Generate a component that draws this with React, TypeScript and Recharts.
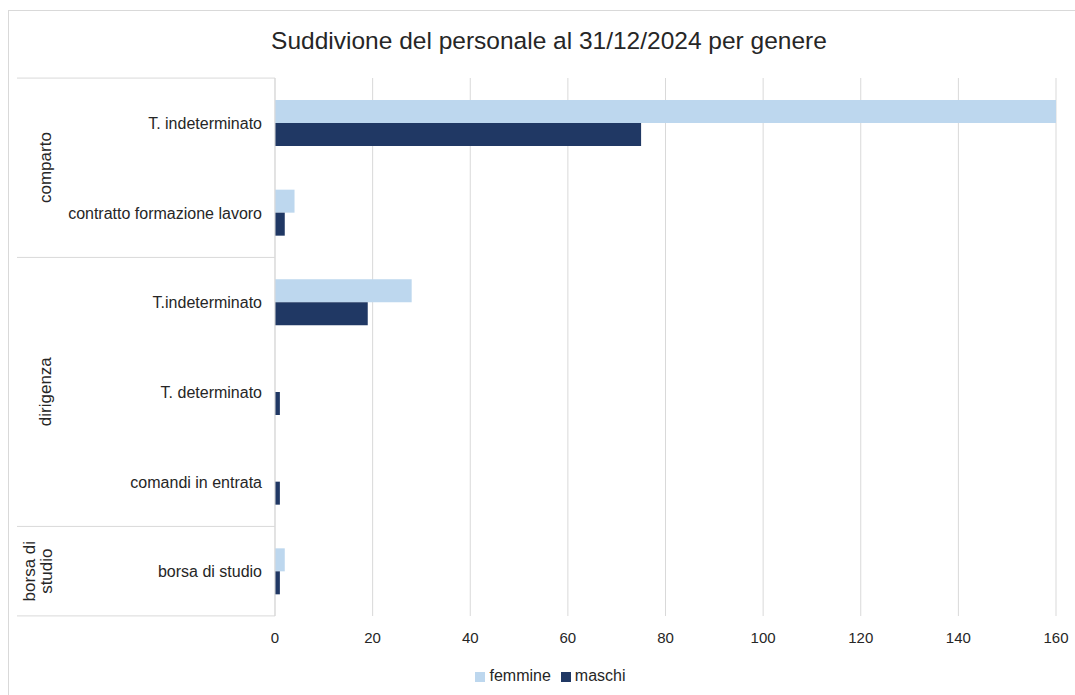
import React from 'react';
import { BarChart, Bar, XAxis, YAxis, CartesianGrid, Legend } from 'recharts';

// --- Data ---

const categories = [
  'T. indeterminato',
  'contratto formazione lavoro',
  'T.indeterminato',
  'T. determinato',
  'comandi in entrata',
  'borsa di studio',
];
const groups = ['comparto', 'comparto', 'dirigenza', 'dirigenza', 'dirigenza', 'borsa di studio'];
const femmine = [160, 4, 28, 0, 0, 2];
const maschi = [75, 2, 19, 1, 1, 1];
const xTicks = [0, 20, 40, 60, 80, 100, 120, 140, 160];

const data = categories.map((name, i) => ({
  key: `${i}`,
  name,
  group: groups[i],
  femmine: femmine[i],
  maschi: maschi[i],
}));

// --- Layout ---

const W = 1075;
const H = 695;
const X_AXIS_H = 40;
const LEGEND_H = 19;
const margin = { top: 78, right: 19, bottom: 80 - X_AXIS_H - LEGEND_H, left: 17 };
const yAxisWidth = 258;
const plotLeft = margin.left + yAxisWidth;
const plotHeight = H - margin.top - 80;
const band = plotHeight / data.length;

const FONT = '"Liberation Sans", Arial, sans-serif';
const NARROW = '"Liberation Sans Narrow", "Liberation Sans", Arial, sans-serif';
const LINE = '#d9d9d9';
const TEXT = '#262626';

// category tick + group labels and separators
const CategoryTick = (props: any) => {
  const { y, payload, index } = props;
  const i = Number(payload.value);
  const row = data[i];
  const top = y - band / 2;
  const items: React.ReactNode[] = [];

  const isGroupStart = i === 0 || groups[i - 1] !== groups[i];
  if (isGroupStart) {
    items.push(<line key="l" x1={margin.left} x2={plotLeft} y1={top} y2={top} stroke={LINE} />);
    let n = 0;
    while (i + n < groups.length && groups[i + n] === groups[i]) n++;
    const cy = top + (n * band) / 2;
    const words = groups[i] === 'borsa di studio' ? ['borsa di', 'studio'] : [groups[i]];
    const baseX = words.length > 1 ? 35 : 51;
    words.forEach((w, k) => {
      const tx = baseX + k * 17;
      items.push(
        <text key={`g${k}`} x={tx} y={cy} transform={`rotate(-90 ${tx} ${cy})`} textAnchor="middle"
          fontSize={17} fontFamily={FONT} fill={TEXT}>{w}</text>
      );
    });
  }
  if (i === data.length - 1) {
    const bottom = y + band / 2;
    items.push(<line key="b" x1={margin.left} x2={plotLeft} y1={bottom} y2={bottom} stroke={LINE} />);
  }

  return (
    <g key={index}>
      {items}
      <text x={plotLeft - 13} y={y + 6} textAnchor="end" fontSize={16} fontFamily={FONT} fill={TEXT}>
        {row.name}
      </text>
    </g>
  );
};

const App: React.FC = () => (
  <div style={{ position: 'absolute', left: 0, top: 0, width: W, height: H, overflow: 'hidden', background: '#fff' }}>
    <div style={{ position: 'absolute', left: 8, top: 10, width: W, height: H, border: `1px solid ${LINE}`, borderRight: 'none', borderBottom: 'none' }} />
    <div style={{ position: 'absolute', left: 0, top: 27, width: 1098, textAlign: 'center', fontFamily: FONT, fontSize: 24.5, color: TEXT }}>
      Suddivione del personale al 31/12/2024 per genere
    </div>
    <div style={{ position: 'absolute', left: 0, top: 0 }}>
      <BarChart width={W} height={H} data={data} layout="vertical" margin={margin} barGap={0} barSize={23}>
        <CartesianGrid horizontal={false} stroke={LINE} />
        <XAxis type="number" domain={[0, 160]} ticks={xTicks} axisLine={false} tickLine={false}
          tick={{ fill: TEXT, fontSize: 15, fontFamily: NARROW }} tickMargin={10} height={X_AXIS_H} />
        <YAxis type="category" dataKey="key" width={yAxisWidth} axisLine={{ stroke: LINE }} tickLine={false}
          tick={<CategoryTick />} interval={0} />
        <Legend verticalAlign="bottom" iconType="square" iconSize={10}
          wrapperStyle={{ fontFamily: NARROW, fontSize: 16, color: TEXT, bottom: 10, left: 36 }}
          formatter={(v: string) => <span style={{ color: TEXT }}>{v}</span>} />
        <Bar dataKey="femmine" name="femmine" fill="#BDD7EE" isAnimationActive={false} />
        <Bar dataKey="maschi" name="maschi" fill="#203864" isAnimationActive={false} />
      </BarChart>
    </div>
  </div>
);

export default App;
